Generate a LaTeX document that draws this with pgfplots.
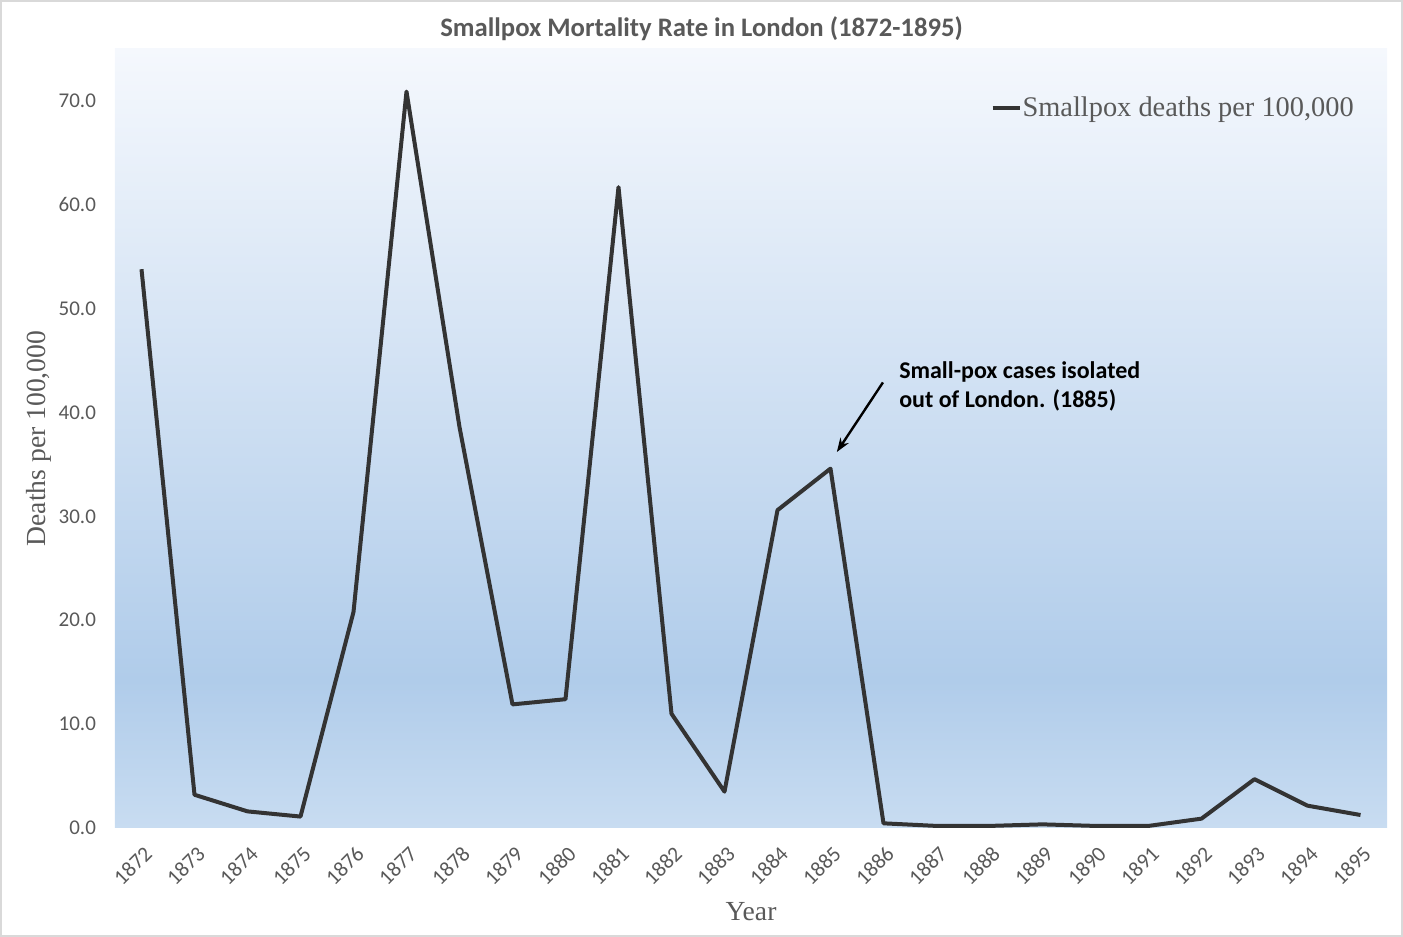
\documentclass[border=0pt]{standalone}
\usepackage{pgfplots}
\pgfplotsset{compat=1.18}
\usetikzlibrary{arrows.meta}
\usepackage{fontspec}
\setmainfont{Liberation Serif}
\newfontfamily\calibri{Carlito}
\definecolor{txtgrey}{HTML}{595959}
\definecolor{linecol}{HTML}{333333}
\definecolor{bgtop}{HTML}{F5F8FD}
\definecolor{bgdark}{HTML}{B0CCEA}
\definecolor{bgbot}{HTML}{C8DCF1}
\pgfdeclareverticalshading{bgshade}{100bp}{color(0bp)=(bgbot); color(25bp)=(bgbot); color(34.5bp)=(bgdark); color(75bp)=(bgtop); color(100bp)=(bgtop)}
\begin{document}
\begin{tikzpicture}[x=1pt,y=1pt]
\useasboundingbox (0,0) rectangle (701.5,468.5);
\draw[color=black!15, line width=1pt] (0.5,0.5) rectangle (701,468);
\node[font=\calibri\bfseries\fontsize{13.35}{15}\selectfont, text=txtgrey] at (350.75,454) {Smallpox Mortality Rate in London (1872-1895)};
\begin{axis}[
  at={(57.5pt,54.5pt)}, anchor=south west,
  scale only axis, width=636pt, height=389.5pt,
  xmin=1871.5, xmax=1895.5, ymin=0, ymax=75,
  xtick={1872,...,1895}, ytick={0,10,...,70},
  axis line style={draw=none}, major tick length=0pt,
  axis background/.style={shading=bgshade},
  /pgf/number format/.cd, assume math mode=true,
  /pgfplots/.cd,
  xticklabel style={font=\calibri\fontsize{10.8}{12}\selectfont, text=txtgrey, rotate=45, anchor=north east, xshift=-2pt, yshift=-3pt, /pgf/number format/1000 sep={}},
  yticklabel style={font=\calibri\fontsize{10.5}{12}\selectfont, text=txtgrey, /pgf/number format/fixed, /pgf/number format/fixed zerofill, /pgf/number format/precision=1, xshift=-6pt},
  xlabel={Year}, ylabel={Deaths per 100,000},
  every axis x label/.style={at={(axis description cs:0.5,0)}, anchor=center, yshift=-42pt, font=\fontsize{13.8}{16}\selectfont, text=txtgrey},
  every axis y label/.style={at={(axis description cs:-0.0595,0.5)}, rotate=90, anchor=center, font=\fontsize{13.8}{16}\selectfont, text=txtgrey},
  legend style={at={(0.975,0.924)}, anchor=east, draw=none, fill=none, font=\fontsize{14.2}{16}\selectfont, text=txtgrey, inner sep=0pt, nodes={inner sep=0.5pt}},
  legend image code/.code={\draw[#1] (0pt,0pt) -- (13.5pt,0pt);},
]
\addplot[color=linecol, line width=2pt, line join=round, mark=none] coordinates {
(1872,53.8) (1873,3.2) (1874,1.6) (1875,1.1) (1876,20.8) (1877,70.9)
(1878,38.6) (1879,11.9) (1880,12.4) (1881,61.7) (1882,11.0) (1883,3.5)
(1884,30.6) (1885,34.6) (1886,0.45) (1887,0.2) (1888,0.2) (1889,0.35)
(1890,0.2) (1891,0.2) (1892,0.9) (1893,4.7) (1894,2.15) (1895,1.25)
};
\addlegendentry{Smallpox deaths per 100,000}
\draw[-{Stealth[length=7pt,width=5pt]}, line width=1.2pt, black] (axis cs:1885.99,42.9) -- (axis cs:1885.12,36.2);
\node[anchor=north west, inner sep=0pt, align=left, font=\calibri\bfseries\fontsize{12}{14.5}\selectfont, text=black] at (axis cs:1886.29,44.9) {Small-pox cases isolated\\out of London. (1885)};
\end{axis}
\end{tikzpicture}
\end{document}
